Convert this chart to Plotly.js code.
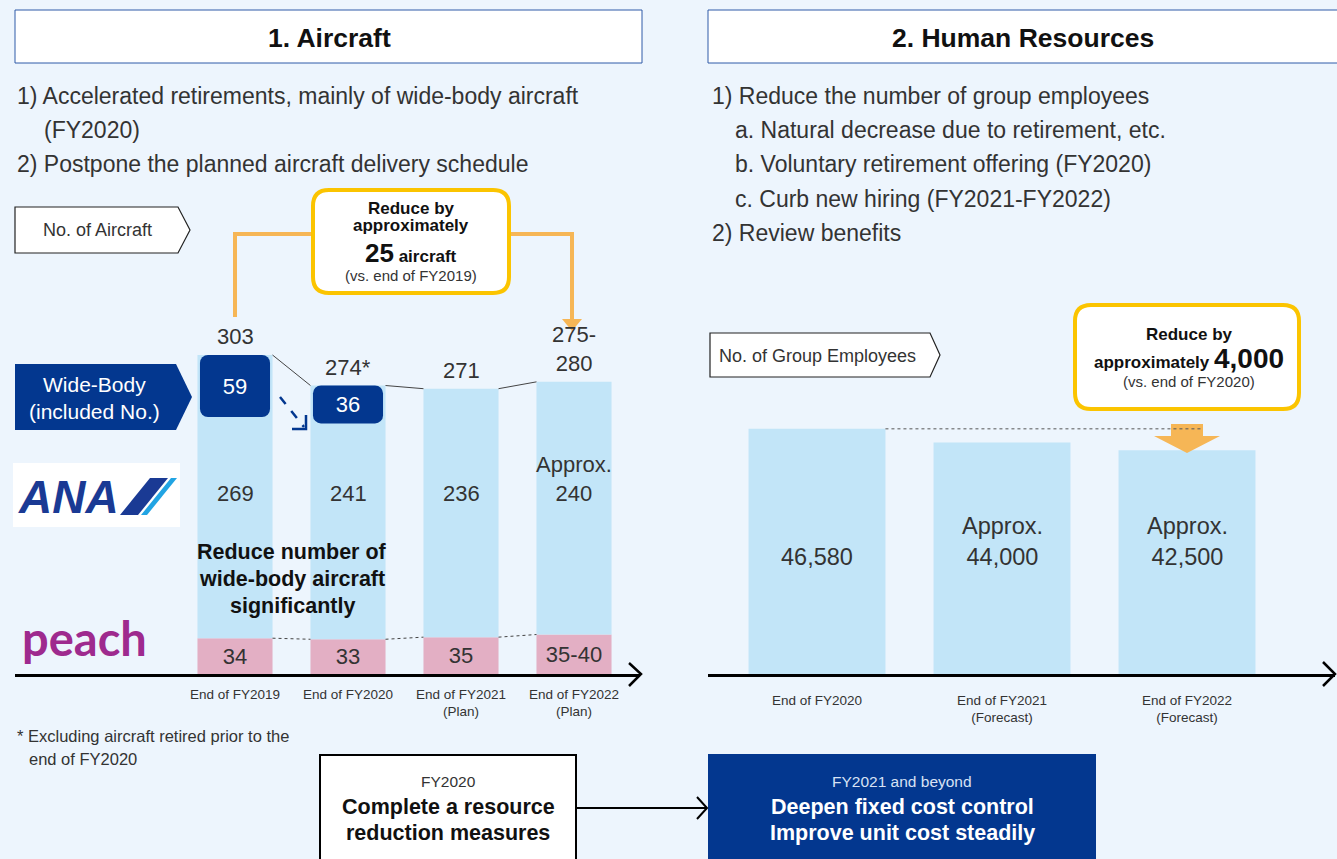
<!DOCTYPE html>
<html>
<head>
<meta charset="utf-8">
<script src="https://cdn.plot.ly/plotly-3.0.1.min.js"></script>
<style>
  html, body { margin: 0; padding: 0; background: #edf5fd; }
  #chart { width: 1337px; height: 859px; }
</style>
</head>
<body>
<div id="chart"></div>
<script>
// Aircraft (left panel)
const aircraftCats = ['End of FY2019', 'End of FY2020', 'End of FY2021<br>(Plan)', 'End of FY2022<br>(Plan)'];
const peachVals = [34, 33, 35, 37.5];
const peachLabels = ['34', '33', '35', '35-40'];
const anaVals = [269, 241, 236, 240];
const anaLabels = ['269', '241', '236', 'Approx.<br>240'];
const wideVals = [59, 36, null, null];
const totalLabels = ['303', '274*', '271', '275-<br>280'];

// Group employees (right panel)
const staffCats = ['End of FY2020', 'End of FY2021<br>(Forecast)', 'End of FY2022<br>(Forecast)'];
const staffVals = [46580, 44000, 42500];
const staffLabels = ['46,580', 'Approx.<br>44,000', 'Approx.<br>42,500'];

const W = 1337, H = 859;
const px = x => x / W;
const py = y => 1 - y / H;
const FONT = 'Liberation Sans, Arial, sans-serif';
const TXT = '#333333';
const DARK = '#111111';
const NAVY = '#03378f';
const SKY = '#c2e5f8';
const PINK = '#e3afc4';
const ORANGE = '#f6b656';
const YELLOW = '#fbc400';

const totals = peachVals.map((v, i) => v + anaVals[i]);
const barW = 0.664;

function path(pts, close) {
  return pts.map((p, i) => (i ? 'L' : 'M') + px(p[0]).toFixed(5) + ',' + py(p[1]).toFixed(5)).join(' ') + (close ? ' Z' : '');
}
function roundRect(x0, y0, x1, y1, r) {
  const P = (x, y) => px(x).toFixed(5) + ',' + py(y).toFixed(5);
  return 'M' + P(x0 + r, y0) + ' L' + P(x1 - r, y0) + ' Q' + P(x1, y0) + ' ' + P(x1, y0 + r) +
    ' L' + P(x1, y1 - r) + ' Q' + P(x1, y1) + ' ' + P(x1 - r, y1) +
    ' L' + P(x0 + r, y1) + ' Q' + P(x0, y1) + ' ' + P(x0, y1 - r) +
    ' L' + P(x0, y0 + r) + ' Q' + P(x0, y0) + ' ' + P(x0 + r, y0) + ' Z';
}
function txt(x, y, text, size, opts, color) {
  return Object.assign({
    xref: 'paper', yref: 'paper', x: px(x), y: py(y), text: text, showarrow: false,
    xanchor: 'center', yanchor: 'middle', font: { family: FONT, size: size, color: color || TXT }
  }, opts || {});
}

const traces = [
  {
    type: 'bar', x: aircraftCats, y: peachVals, base: 0, width: barW,
    marker: { color: PINK }, text: peachLabels, textposition: 'inside', insidetextanchor: 'middle',
    textfont: { family: FONT, size: 22, color: TXT }, xaxis: 'x', yaxis: 'y', hoverinfo: 'skip'
  },
  {
    type: 'bar', x: aircraftCats, y: anaVals, base: peachVals, width: barW,
    marker: { color: SKY }, xaxis: 'x', yaxis: 'y', hoverinfo: 'skip'
  },
  {
    type: 'bar', x: aircraftCats, y: wideVals, base: totals.map((t, i) => wideVals[i] == null ? null : t - wideVals[i]),
    width: 0.62, marker: { color: NAVY, cornerradius: 8 }, text: wideVals.map(v => v == null ? '' : String(v)),
    textposition: 'inside', insidetextanchor: 'middle',
    textfont: { family: FONT, size: 22, color: '#ffffff' }, xaxis: 'x', yaxis: 'y', hoverinfo: 'skip'
  },
  {
    type: 'bar', x: staffCats, y: staffVals, width: 0.74, marker: { color: SKY },
    xaxis: 'x2', yaxis: 'y2', hoverinfo: 'skip'
  }
];

const shapes = [
  // section headers
  { type: 'rect', xref: 'paper', yref: 'paper', x0: px(15), x1: px(642), y0: py(63), y1: py(10), fillcolor: '#ffffff', line: { color: '#2f5aa8', width: 1 } },
  { type: 'rect', xref: 'paper', yref: 'paper', x0: px(708), x1: px(1345), y0: py(63), y1: py(10), fillcolor: '#ffffff', line: { color: '#2f5aa8', width: 1 } },
  // "No. of Aircraft" tag
  { type: 'path', xref: 'paper', yref: 'paper', path: path([[15, 207], [178, 207], [190, 230], [178, 253], [15, 253]], true), fillcolor: '#ffffff', line: { color: '#222', width: 1.2 } },
  // Wide-Body tag
  { type: 'path', xref: 'paper', yref: 'paper', path: path([[15, 364], [176, 364], [192, 397], [176, 430], [15, 430]], true), fillcolor: NAVY, line: { width: 0 } },
  // ANA logo
  { type: 'rect', xref: 'paper', yref: 'paper', x0: px(13), x1: px(180), y0: py(527), y1: py(463), fillcolor: '#ffffff', line: { width: 0 } },
  { type: 'path', xref: 'paper', yref: 'paper', path: path([[120, 515], [150, 478], [168, 478], [138, 515]], true), fillcolor: '#1a3a94', line: { width: 0 } },
  { type: 'path', xref: 'paper', yref: 'paper', path: path([[141, 515], [171, 478], [177, 478], [147, 515]], true), fillcolor: '#21a4e3', line: { width: 0 } },
  // left callout and bracket
  { type: 'path', xref: 'paper', yref: 'paper', path: path([[235, 317], [235, 234], [312, 234]]), line: { color: ORANGE, width: 4 } },
  { type: 'path', xref: 'paper', yref: 'paper', path: path([[510, 234], [572, 234], [572, 322]]), line: { color: ORANGE, width: 4 } },
  { type: 'path', xref: 'paper', yref: 'paper', path: path([[562, 319], [582, 319], [572, 331]], true), fillcolor: ORANGE, line: { width: 0 } },
  { type: 'path', xref: 'paper', yref: 'paper', path: roundRect(313, 190, 509, 293, 16), fillcolor: '#ffffff', line: { color: YELLOW, width: 4 } },
  // dashed arrow between wide-body boxes
  { type: 'line', xref: 'paper', yref: 'paper', x0: px(280), y0: py(397), x1: px(304), y1: py(427), line: { color: NAVY, width: 2.5, dash: 'dash' } },
  { type: 'path', xref: 'paper', yref: 'paper', path: path([[292, 429], [306, 429], [306, 415]]), line: { color: NAVY, width: 2.5 } },
  // left axis arrowhead
  { type: 'path', xref: 'paper', yref: 'paper', path: path([[629, 663], [641, 674], [629, 686]]), line: { color: '#000', width: 2.5 } },
  // right tag
  { type: 'path', xref: 'paper', yref: 'paper', path: path([[710, 333], [930, 333], [940, 355], [930, 377], [710, 377]], true), fillcolor: '#ffffff', line: { color: '#222', width: 1.2 } },
  // right callout
  { type: 'path', xref: 'paper', yref: 'paper', path: roundRect(1075, 305, 1299, 409, 16), fillcolor: '#ffffff', line: { color: YELLOW, width: 4 } },
  { type: 'path', xref: 'paper', yref: 'paper', path: path([[1171, 424], [1203, 424], [1203, 436], [1220, 436], [1187, 453], [1154, 436], [1171, 436]], true), fillcolor: ORANGE, line: { width: 0 } },
  // right axis arrowhead
  { type: 'path', xref: 'paper', yref: 'paper', path: path([[1323, 662], [1335, 674], [1323, 686]]), line: { color: '#000', width: 2.5 } },
  // bottom boxes
  { type: 'rect', xref: 'paper', yref: 'paper', x0: px(320), x1: px(576), y0: py(862), y1: py(755), fillcolor: '#ffffff', line: { color: '#000', width: 2 } },
  { type: 'rect', xref: 'paper', yref: 'paper', x0: px(708), x1: px(1096), y0: py(862), y1: py(754), fillcolor: NAVY, line: { width: 0 } },
  { type: 'line', xref: 'paper', yref: 'paper', x0: px(576), y0: py(808), x1: px(706), y1: py(808), line: { color: '#000', width: 2 } },
  { type: 'path', xref: 'paper', yref: 'paper', path: path([[697, 797], [707, 808], [697, 819]]), line: { color: '#000', width: 2 } }
];

// connectors between bar tops (solid) and peach tops (dotted)
for (let i = 0; i < totals.length - 1; i++) {
  shapes.push({ type: 'line', xref: 'x', yref: 'y', x0: i + barW / 2, x1: i + 1 - barW / 2, y0: totals[i], y1: totals[i + 1], line: { color: '#444', width: 1 } });
  shapes.push({ type: 'line', xref: 'x', yref: 'y', x0: i + barW / 2, x1: i + 1 - barW / 2, y0: peachVals[i], y1: peachVals[i + 1], line: { color: '#444', width: 1, dash: 'dot' } });
}
shapes.push({ type: 'line', xref: 'x2', yref: 'y2', x0: 0.37, x1: 2.08, y0: staffVals[0], y1: staffVals[0], line: { color: '#555', width: 1, dash: 'dot' } });

const annotations = [
  txt(329, 38, '<b>1. Aircraft</b>', 26.5, null, DARK),
  txt(1023, 38, '<b>2. Human Resources</b>', 26.5, null, DARK),
  txt(15, 96, '1) Accelerated retirements, mainly of wide-body aircraft', 23, { xanchor: 'left' }),
  txt(42, 130, '(FY2020)', 23, { xanchor: 'left' }),
  txt(15, 164, '2) Postpone the planned aircraft delivery schedule', 23, { xanchor: 'left' }),
  txt(710, 96, '1) Reduce the number of group employees', 23, { xanchor: 'left' }),
  txt(733, 130, 'a. Natural decrease due to retirement, etc.', 23, { xanchor: 'left' }),
  txt(733, 164, 'b. Voluntary retirement offering (FY2020)', 23, { xanchor: 'left' }),
  txt(733, 199, 'c. Curb new hiring (FY2021-FY2022)', 23, { xanchor: 'left' }),
  txt(710, 233, '2) Review benefits', 23, { xanchor: 'left' }),
  txt(98, 230, 'No. of Aircraft', 18),
  txt(95, 398, 'Wide-Body<br>(included No.)', 21, null, '#ffffff'),
  txt(68, 497, '<b><i>ANA</i></b>', 46, null, '#1a3a94'),
  txt(84, 638, '<b>peach</b>', 47, { font: { family: 'Lato, sans-serif', size: 47, color: '#9e2a8e' } }),
  txt(411, 208, '<b>Reduce by</b>', 17, null, DARK),
  txt(411, 225, '<b>approximately</b>', 17, null, DARK),
  txt(411, 253, '<b><span style="font-size:26px">25</span> aircraft</b>', 17, null, DARK),
  txt(411, 276, '(vs. end of FY2019)', 15),
  txt(292, 552, '<b>Reduce number of</b>', 21.5, null, DARK),
  txt(292, 579, '<b>wide-body aircraft</b>', 21.5, null, DARK),
  txt(292, 606, '<b>significantly</b>', 21.5, null, DARK),
  txt(15, 736, '* Excluding aircraft retired prior to the', 16.5, { xanchor: 'left' }),
  txt(27, 759, 'end of FY2020', 16.5, { xanchor: 'left' }),
  txt(818, 356, 'No. of Group Employees', 18),
  txt(1189, 335, '<b>Reduce by</b>', 17, null, DARK),
  txt(1189, 358, '<b>approximately <span style="font-size:28px">4,000</span></b>', 17, null, DARK),
  txt(1189, 382, '(vs. end of FY2020)', 15),
  txt(448, 781, 'FY2020', 15.5),
  txt(448, 807, '<b>Complete a resource</b>', 21.5, null, DARK),
  txt(448, 833, '<b>reduction measures</b>', 21.5, null, DARK),
  txt(902, 781, 'FY2021 and beyond', 15.5, null, '#d8e2f5'),
  txt(902, 807, '<b>Deepen fixed cost control</b>', 21.5, null, '#ffffff'),
  txt(902, 833, '<b>Improve unit cost steadily</b>', 21.5, null, '#ffffff')
];

// value labels from the data
aircraftCats.forEach((c, i) => {
  annotations.push({ xref: 'x', yref: 'paper', x: i, y: py(508), yanchor: 'bottom', text: anaLabels[i], showarrow: false, font: { family: FONT, size: 22, color: TXT } });
  annotations.push({ xref: 'x', yref: 'y', x: i, y: totals[i], yanchor: 'bottom', yshift: 4, text: totalLabels[i], showarrow: false, font: { family: FONT, size: 22, color: TXT } });
});
staffCats.forEach((c, i) => {
  annotations.push({ xref: 'x2', yref: 'paper', x: i, y: py(572), yanchor: 'bottom', text: staffLabels[i], showarrow: false, font: { family: FONT, size: 23.5, color: TXT } });
});

const layout = {
  width: W, height: H,
  margin: { l: 0, r: 0, t: 0, b: 0 },
  paper_bgcolor: '#edf5fd', plot_bgcolor: 'rgba(0,0,0,0)',
  barmode: 'overlay', showlegend: false,
  font: { family: FONT, color: TXT },
  xaxis: {
    domain: [px(15), px(640)], range: [-(235 - 15) / 113, (640 - 235) / 113], type: 'category',
    showline: true, linecolor: '#000', linewidth: 2.5, ticks: '', showgrid: false, zeroline: false,
    tickfont: { family: FONT, size: 13.5, color: TXT }, ticklabelstandoff: 6, anchor: 'y', fixedrange: true
  },
  yaxis: { domain: [py(674), py(180)], range: [0, 494 / (319 / 303)], visible: false, anchor: 'x', fixedrange: true },
  xaxis2: {
    domain: [px(708), px(1335)], range: [-(817 - 708) / 185, (1335 - 817) / 185], type: 'category',
    showline: true, linecolor: '#000', linewidth: 2.5, ticks: '', showgrid: false, zeroline: false,
    tickfont: { family: FONT, size: 13.5, color: TXT }, ticklabelstandoff: 12, anchor: 'y2', fixedrange: true
  },
  yaxis2: { domain: [py(674), py(180)], range: [0, 494 * 190], visible: false, anchor: 'x2', fixedrange: true },
  shapes: shapes,
  annotations: annotations
};

Plotly.newPlot('chart', traces, layout, { displayModeBar: false, staticPlot: true });
</script>
</body>
</html>
